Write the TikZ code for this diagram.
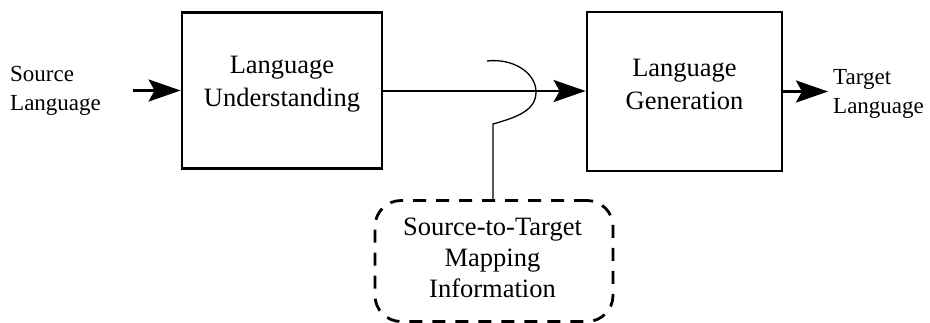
\documentclass[tikz,border=0pt]{standalone}
\usepackage{fontspec}
\setmainfont{Liberation Serif}
\usetikzlibrary{arrows.meta}
\begin{document}
\begin{tikzpicture}[x=1pt,y=-1pt,
  blockbox/.style={draw,line width=2.8pt,minimum width=200pt,minimum height=156pt,inner sep=0pt},
  boxtext/.style={align=center,inner sep=0pt,font=\rmfamily\fontsize{26.5}{33}\selectfont},
  sidetext/.style={align=left,inner sep=0pt,font=\rmfamily\fontsize{23}{29}\selectfont},
  flow/.style={line width=2.8pt,-{Stealth[length=32pt,width=22pt,inset=6pt]}},
  mapbox/.style={draw,line width=2.8pt,dash pattern=on 13pt off 10pt,rounded corners=26pt,minimum width=238pt,minimum height=121pt,inner sep=0pt},
  hook/.style={line width=1.3pt}]
\useasboundingbox (0,0) rectangle (930,322);
% blocks
\node[blockbox] (lu) at (282,90.5) {};
\node[blockbox,minimum width=195pt,minimum height=159pt] (lg) at (684.5,91.5) {};
\node[boxtext] (lut) at (282,84.5) {Language\\Understanding};
\node[boxtext] (lgt) at (684.5,84) {Language\\Generation};
% side labels
\node[sidetext,anchor=west] (src) at (10,91) {Source\\Language};
\node[sidetext,anchor=west] (tgt) at (833,94) {Target\\Language};
\coordinate (srcend) at (133,90.5);
\coordinate (tgtend) at (828,91.5);
% mapping box
\node[mapbox] (map) at (494,261) {};
\node[boxtext,font=\rmfamily\fontsize{26.5}{31}\selectfont] (mapt) at (492.5,257.5) {Source-to-Target\\Mapping\\Information};
% arrows
\draw[flow] (srcend) -- (lu.west);
\draw[flow] (lu.east |- 0,91) -- (lg.west |- 0,91);
\draw[flow] (lg.east |- 0,91.5) -- (tgtend);
% hook connector
\coordinate (hk) at (493,124);
\draw[hook] (map.north -| hk) -- (hk) .. controls (518,117) and (536,110) .. (536,92) .. controls (536,72) and (512,58) .. (487,61);
\end{tikzpicture}
\end{document}
